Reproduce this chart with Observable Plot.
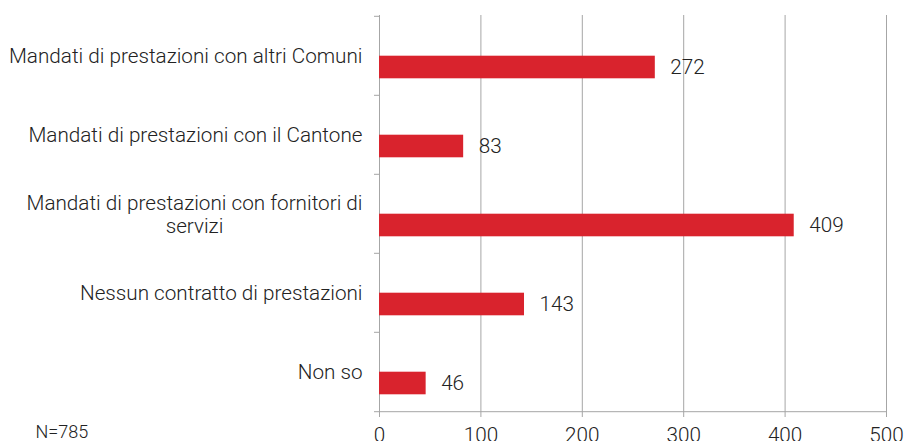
<!DOCTYPE html>
<html><head><meta charset="utf-8">
<script src="https://cdn.jsdelivr.net/npm/d3@7"></script>
<script src="https://cdn.jsdelivr.net/npm/@observablehq/plot@0.6"></script>
<style>html,body{margin:0;padding:0;background:#fff}</style>
</head><body><div id="chart"></div>
<script>
const categories = [
  "Mandati di prestazioni con altri Comuni",
  "Mandati di prestazioni con il Cantone",
  "Mandati di prestazioni con fornitori di servizi",
  "Nessun contratto di prestazioni",
  "Non so"
];
const labels = [
  "Mandati di prestazioni con altri Comuni",
  "Mandati di prestazioni con il Cantone",
  "Mandati di prestazioni con fornitori di\nservizi",
  "Nessun contratto di prestazioni",
  "Non so"
];
const values = [272, 83, 409, 143, 46];
const xTicks = [0, 100, 200, 300, 400, 500];
const note = "N=785";

const data = categories.map((c, i) => ({category: c, label: labels[i], value: values[i]}));
const W = 904, H = 441, mt = 15, mb = 29, ml = 379, mr = 18;
const bw = (H - mt - mb) / categories.length;
const barH = 23;
const lineColor = "#a6a6a6";
const red = "#d9232d";
const fs = 20.7;

const plot = Plot.plot({
  width: W, height: H,
  marginTop: mt, marginBottom: mb, marginLeft: ml, marginRight: mr,
  style: {fontFamily: "Roboto, 'Liberation Sans', sans-serif", fontSize: fs + "px", fontWeight: 300, color: "#222", background: "#fff"},
  x: {domain: [0, 500], axis: null},
  y: {domain: categories, padding: 0, axis: null},
  marks: [
    Plot.ruleX(xTicks, {stroke: lineColor, strokeWidth: 1}),
    Plot.ruleY(categories, {y: d => d, x1: 0, x2: 0, insetLeft: -5, dy: -bw / 2, stroke: lineColor}),
    Plot.ruleY([categories[categories.length - 1]], {y: d => d, x1: 0, x2: 500, insetLeft: -5, dy: bw / 2, stroke: lineColor}),
    Plot.axisX({ticks: xTicks, tickSize: 5, tickPadding: 10, stroke: lineColor, tickFormat: d => String(d), fontSize: fs, label: null}),
    Plot.barX(data, {x: "value", y: "category", fill: red, insetTop: bw / 2, insetBottom: bw / 2 - barH}),
    Plot.text(data, {x: "value", y: "category", text: d => String(d.value), dx: 15, dy: barH / 2, textAnchor: "start", fill: "#222", fontSize: fs}),
    Plot.text(data, {y: "category", text: "label", frameAnchor: "left", dx: -17, textAnchor: "end", fill: "#222", fontSize: fs, lineHeight: 1.1}),
    Plot.text([note], {frameAnchor: "bottom-left", dx: -344, dy: 25, textAnchor: "start", lineAnchor: "bottom", fill: "#222", fontSize: 18})
  ]
});
document.getElementById("chart").append(plot);
plot.querySelectorAll("text").forEach(t => {
  const ts = t.querySelectorAll("tspan");
  if (ts.length > 1) {
    let m = 0;
    ts.forEach(s => { m = Math.max(m, s.getComputedTextLength()); });
    t.setAttribute("text-anchor", "middle");
    ts.forEach(s => s.setAttribute("x", -m / 2));
  }
});
</script>
</body></html>
